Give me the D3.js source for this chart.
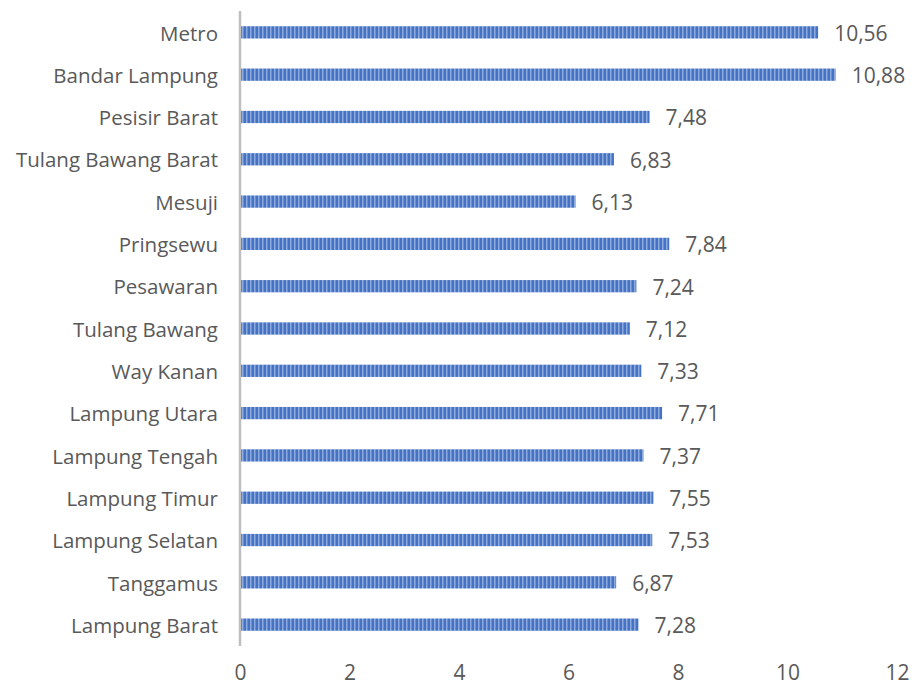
<!DOCTYPE html>
<html><head><meta charset="utf-8">
<script src="https://cdn.jsdelivr.net/npm/d3@7"></script>
<style>body{margin:0;background:#fff}svg{display:block}text{font-family:"Open Sans",sans-serif;fill:#595959}</style>
</head><body><svg id="c" width="915" height="687"></svg>
<script>
const categories = ["Metro","Bandar Lampung","Pesisir Barat","Tulang Bawang Barat","Mesuji","Pringsewu","Pesawaran","Tulang Bawang","Way Kanan","Lampung Utara","Lampung Tengah","Lampung Timur","Lampung Selatan","Tanggamus","Lampung Barat"];
const values = [10.56,10.88,7.48,6.83,6.13,7.84,7.24,7.12,7.33,7.71,7.37,7.55,7.53,6.87,7.28];
const tickValues = [0,2,4,6,8,10,12];
const FONT = "'Open Sans',sans-serif";
const FS = 20.5;
const FSV = 21;

const svg = d3.select("#c");
const defs = svg.append("defs");
const pat = defs.append("pattern").attr("id","stripe").attr("patternUnits","userSpaceOnUse").attr("width",4).attr("height",10);
pat.append("rect").attr("width",4).attr("height",10).attr("fill","#4472C4");
pat.append("rect").attr("x",2).attr("width",1.5).attr("height",10).attr("fill","#8FAADC");

const x = d3.scaleLinear().domain([0,12]).range([240,897]);
const y = d3.scaleBand().domain(categories).range([11,646]).paddingInner(0.71).paddingOuter(0.36);

svg.selectAll("rect.bar").data(values).join("rect").attr("class","bar")
  .attr("x",x(0)).attr("y",(d,i)=>y(categories[i]))
  .attr("width",d=>x(d)-x(0)).attr("height",y.bandwidth())
  .attr("fill","url(#stripe)");

svg.append("line").attr("x1",x(0)).attr("x2",x(0)).attr("y1",11).attr("y2",646)
  .attr("stroke","#BFBFBF").attr("stroke-width",2.5);

svg.selectAll("text.cat").data(categories).join("text").attr("class","cat")
  .attr("x",218).attr("y",d=>y(d)+y.bandwidth()/2+1).attr("dy","0.35em")
  .attr("text-anchor","end").attr("font-size",FS).text(d=>d);

svg.selectAll("text.val").data(values).join("text").attr("class","val")
  .attr("x",d=>x(d)+16).attr("y",(d,i)=>y(categories[i])+y.bandwidth()/2+1).attr("dy","0.35em")
  .attr("font-size",FSV).text(d=>d.toFixed(2).replace(".",","));

const ax = d3.axisBottom(x).tickValues(tickValues).tickSize(0).tickPadding(0).tickFormat(d=>d);
const g = svg.append("g").attr("transform","translate(0,665)").call(ax);
g.select(".domain").remove();
g.selectAll("text").attr("font-size",FSV).attr("dy","0.71em").style("fill","#595959").style("font-family",FONT);
</script></body></html>
